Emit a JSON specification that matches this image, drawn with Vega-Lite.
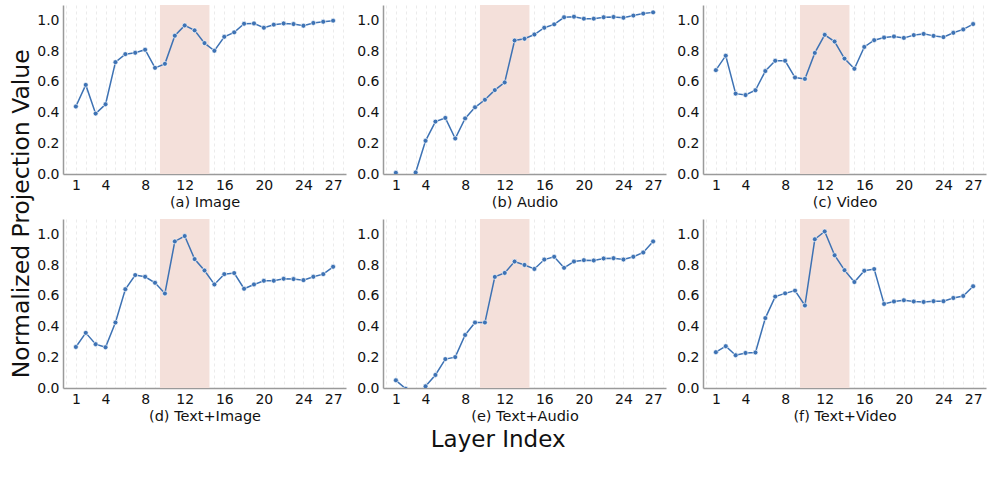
{
"$schema":"https://vega.github.io/schema/vega-lite/v6.json",
"padding":{"left":10,"top":5,"right":5,"bottom":5},
"title":{"text":"Layer Index","orient":"bottom","fontSize":23,"fontWeight":"normal","anchor":"middle","offset":6,"color":"#111"},
"config":{
 "font":"DejaVu Sans",
 "view":{"stroke":null},
 "axis":{"domainColor":"#9a9a9a","domainWidth":1.5,"ticks":false,"gridColor":"#e6e6e6","gridDash":[3,3],"gridWidth":0.8,"labelFontSize":14,"labelColor":"#111","titleFontSize":14.5,"titleFontWeight":"normal","titleColor":"#111","labelPadding":4,"titlePadding":3,"labelOverlap":false}
},
"datasets":{
 "band":[{"start":9.5,"end":14.5}],
 "d":[
{"panel":"a","layer":1,"value":0.439},{"panel":"a","layer":2,"value":0.58},{"panel":"a","layer":3,"value":0.393},{"panel":"a","layer":4,"value":0.454},{"panel":"a","layer":5,"value":0.728},{"panel":"a","layer":6,"value":0.78},{"panel":"a","layer":7,"value":0.789},{"panel":"a","layer":8,"value":0.809},{"panel":"a","layer":9,"value":0.691},{"panel":"a","layer":10,"value":0.717},{"panel":"a","layer":11,"value":0.9},{"panel":"a","layer":12,"value":0.967},{"panel":"a","layer":13,"value":0.935},{"panel":"a","layer":14,"value":0.852},{"panel":"a","layer":15,"value":0.802},{"panel":"a","layer":16,"value":0.893},{"panel":"a","layer":17,"value":0.922},{"panel":"a","layer":18,"value":0.978},{"panel":"a","layer":19,"value":0.98},{"panel":"a","layer":20,"value":0.952},{"panel":"a","layer":21,"value":0.972},{"panel":"a","layer":22,"value":0.98},{"panel":"a","layer":23,"value":0.976},{"panel":"a","layer":24,"value":0.965},{"panel":"a","layer":25,"value":0.983},{"panel":"a","layer":26,"value":0.991},{"panel":"a","layer":27,"value":0.998},
{"panel":"b","layer":1,"value":0.008},{"panel":"b","layer":2,"value":-0.05},{"panel":"b","layer":3,"value":0.01},{"panel":"b","layer":4,"value":0.216},{"panel":"b","layer":5,"value":0.341},{"panel":"b","layer":6,"value":0.365},{"panel":"b","layer":7,"value":0.231},{"panel":"b","layer":8,"value":0.362},{"panel":"b","layer":9,"value":0.434},{"panel":"b","layer":10,"value":0.483},{"panel":"b","layer":11,"value":0.546},{"panel":"b","layer":12,"value":0.596},{"panel":"b","layer":13,"value":0.869},{"panel":"b","layer":14,"value":0.88},{"panel":"b","layer":15,"value":0.908},{"panel":"b","layer":16,"value":0.952},{"panel":"b","layer":17,"value":0.974},{"panel":"b","layer":18,"value":1.02},{"panel":"b","layer":19,"value":1.024},{"panel":"b","layer":20,"value":1.011},{"panel":"b","layer":21,"value":1.011},{"panel":"b","layer":22,"value":1.02},{"panel":"b","layer":23,"value":1.022},{"panel":"b","layer":24,"value":1.017},{"panel":"b","layer":25,"value":1.031},{"panel":"b","layer":26,"value":1.044},{"panel":"b","layer":27,"value":1.052},
{"panel":"c","layer":1,"value":0.676},{"panel":"c","layer":2,"value":0.77},{"panel":"c","layer":3,"value":0.523},{"panel":"c","layer":4,"value":0.514},{"panel":"c","layer":5,"value":0.545},{"panel":"c","layer":6,"value":0.67},{"panel":"c","layer":7,"value":0.737},{"panel":"c","layer":8,"value":0.737},{"panel":"c","layer":9,"value":0.628},{"panel":"c","layer":10,"value":0.619},{"panel":"c","layer":11,"value":0.788},{"panel":"c","layer":12,"value":0.906},{"panel":"c","layer":13,"value":0.862},{"panel":"c","layer":14,"value":0.751},{"panel":"c","layer":15,"value":0.685},{"panel":"c","layer":16,"value":0.827},{"panel":"c","layer":17,"value":0.871},{"panel":"c","layer":18,"value":0.888},{"panel":"c","layer":19,"value":0.895},{"panel":"c","layer":20,"value":0.886},{"panel":"c","layer":21,"value":0.904},{"panel":"c","layer":22,"value":0.912},{"panel":"c","layer":23,"value":0.899},{"panel":"c","layer":24,"value":0.891},{"panel":"c","layer":25,"value":0.919},{"panel":"c","layer":26,"value":0.941},{"panel":"c","layer":27,"value":0.976},
{"panel":"d","layer":1,"value":0.267},{"panel":"d","layer":2,"value":0.359},{"panel":"d","layer":3,"value":0.285},{"panel":"d","layer":4,"value":0.265},{"panel":"d","layer":5,"value":0.426},{"panel":"d","layer":6,"value":0.643},{"panel":"d","layer":7,"value":0.735},{"panel":"d","layer":8,"value":0.724},{"panel":"d","layer":9,"value":0.685},{"panel":"d","layer":10,"value":0.615},{"panel":"d","layer":11,"value":0.954},{"panel":"d","layer":12,"value":0.989},{"panel":"d","layer":13,"value":0.839},{"panel":"d","layer":14,"value":0.765},{"panel":"d","layer":15,"value":0.674},{"panel":"d","layer":16,"value":0.741},{"panel":"d","layer":17,"value":0.748},{"panel":"d","layer":18,"value":0.646},{"panel":"d","layer":19,"value":0.674},{"panel":"d","layer":20,"value":0.698},{"panel":"d","layer":21,"value":0.698},{"panel":"d","layer":22,"value":0.711},{"panel":"d","layer":23,"value":0.709},{"panel":"d","layer":24,"value":0.702},{"panel":"d","layer":25,"value":0.724},{"panel":"d","layer":26,"value":0.741},{"panel":"d","layer":27,"value":0.789},
{"panel":"e","layer":1,"value":0.05},{"panel":"e","layer":2,"value":-0.005},{"panel":"e","layer":3,"value":-0.05},{"panel":"e","layer":4,"value":0.011},{"panel":"e","layer":5,"value":0.085},{"panel":"e","layer":6,"value":0.188},{"panel":"e","layer":7,"value":0.201},{"panel":"e","layer":8,"value":0.345},{"panel":"e","layer":9,"value":0.426},{"panel":"e","layer":10,"value":0.426},{"panel":"e","layer":11,"value":0.723},{"panel":"e","layer":12,"value":0.749},{"panel":"e","layer":13,"value":0.823},{"panel":"e","layer":14,"value":0.801},{"panel":"e","layer":15,"value":0.775},{"panel":"e","layer":16,"value":0.836},{"panel":"e","layer":17,"value":0.854},{"panel":"e","layer":18,"value":0.782},{"panel":"e","layer":19,"value":0.823},{"panel":"e","layer":20,"value":0.832},{"panel":"e","layer":21,"value":0.83},{"panel":"e","layer":22,"value":0.843},{"panel":"e","layer":23,"value":0.845},{"panel":"e","layer":24,"value":0.836},{"panel":"e","layer":25,"value":0.854},{"panel":"e","layer":26,"value":0.882},{"panel":"e","layer":27,"value":0.954},
{"panel":"f","layer":1,"value":0.233},{"panel":"f","layer":2,"value":0.272},{"panel":"f","layer":3,"value":0.213},{"panel":"f","layer":4,"value":0.228},{"panel":"f","layer":5,"value":0.231},{"panel":"f","layer":6,"value":0.455},{"panel":"f","layer":7,"value":0.595},{"panel":"f","layer":8,"value":0.616},{"panel":"f","layer":9,"value":0.634},{"panel":"f","layer":10,"value":0.537},{"panel":"f","layer":11,"value":0.968},{"panel":"f","layer":12,"value":1.019},{"panel":"f","layer":13,"value":0.864},{"panel":"f","layer":14,"value":0.767},{"panel":"f","layer":15,"value":0.69},{"panel":"f","layer":16,"value":0.763},{"panel":"f","layer":17,"value":0.774},{"panel":"f","layer":18,"value":0.547},{"panel":"f","layer":19,"value":0.563},{"panel":"f","layer":20,"value":0.571},{"panel":"f","layer":21,"value":0.563},{"panel":"f","layer":22,"value":0.56},{"panel":"f","layer":23,"value":0.565},{"panel":"f","layer":24,"value":0.565},{"panel":"f","layer":25,"value":0.586},{"panel":"f","layer":26,"value":0.599},{"panel":"f","layer":27,"value":0.662}
 ]
},
"vconcat":[{
 "title":{"text":"Normalized Projection Value","orient":"left","fontSize":23.5,"fontWeight":"normal","anchor":"middle","offset":3,"color":"#111"},
 "columns":3,
 "spacing":{"row":10,"column":10},
 "concat":[
  {"width":283,"height":169,"layer":[
   {"data":{"name":"band"},"mark":{"type":"rect","color":"#f4e0da"},"encoding":{"x":{"field":"start","type":"quantitative","title":"(a) Image","scale":{"domain":[-0.3,28.3],"nice":false,"zero":false},"axis":{"values":[0,1,2,3,4,5,6,7,8,9,10,11,12,13,14,15,16,17,18,19,20,21,22,23,24,25,26,27,28],"labelExpr":"indexof([1,4,8,12,16,20,24,27], datum.value) >= 0 ? datum.label : ''"}},"x2":{"field":"end"},"y":{"datum":0,"type":"quantitative","title":null,"scale":{"domain":[0,1.1],"nice":false},"axis":{"values":[0,0.2,0.4,0.6,0.8,1.0],"format":".1f"}},"y2":{"datum":1.1}}},
   {"data":{"name":"d"},"transform":[{"filter":"datum.panel==='a'"}],"mark":{"type":"line","color":"#3d72b4","strokeWidth":1.5,"clip":true},"encoding":{"x":{"field":"layer","type":"quantitative","title":"(a) Image","axis":{"values":[0,1,2,3,4,5,6,7,8,9,10,11,12,13,14,15,16,17,18,19,20,21,22,23,24,25,26,27,28],"labelExpr":"indexof([1,4,8,12,16,20,24,27], datum.value) >= 0 ? datum.label : ''"}},"y":{"field":"value","type":"quantitative","title":null,"axis":{"values":[0,0.2,0.4,0.6,0.8,1.0],"format":".1f"}}}},
   {"data":{"name":"d"},"transform":[{"filter":"datum.panel==='a'"}],"mark":{"type":"point","filled":true,"color":"#3d72b4","size":24,"stroke":"#ffffff","strokeWidth":0.8,"strokeOpacity":0.8,"opacity":1,"clip":true},"encoding":{"x":{"field":"layer","type":"quantitative","title":"(a) Image","axis":{"values":[0,1,2,3,4,5,6,7,8,9,10,11,12,13,14,15,16,17,18,19,20,21,22,23,24,25,26,27,28],"labelExpr":"indexof([1,4,8,12,16,20,24,27], datum.value) >= 0 ? datum.label : ''"}},"y":{"field":"value","type":"quantitative","title":null,"axis":{"values":[0,0.2,0.4,0.6,0.8,1.0],"format":".1f"}}}}
  ]},
  {"width":283,"height":169,"layer":[
   {"data":{"name":"band"},"mark":{"type":"rect","color":"#f4e0da"},"encoding":{"x":{"field":"start","type":"quantitative","title":"(b) Audio","scale":{"domain":[-0.3,28.3],"nice":false,"zero":false},"axis":{"values":[0,1,2,3,4,5,6,7,8,9,10,11,12,13,14,15,16,17,18,19,20,21,22,23,24,25,26,27,28],"labelExpr":"indexof([1,4,8,12,16,20,24,27], datum.value) >= 0 ? datum.label : ''"}},"x2":{"field":"end"},"y":{"datum":0,"type":"quantitative","title":null,"scale":{"domain":[0,1.1],"nice":false},"axis":{"values":[0,0.2,0.4,0.6,0.8,1.0],"format":".1f"}},"y2":{"datum":1.1}}},
   {"data":{"name":"d"},"transform":[{"filter":"datum.panel==='b'"}],"mark":{"type":"line","color":"#3d72b4","strokeWidth":1.5,"clip":true},"encoding":{"x":{"field":"layer","type":"quantitative","title":"(b) Audio","axis":{"values":[0,1,2,3,4,5,6,7,8,9,10,11,12,13,14,15,16,17,18,19,20,21,22,23,24,25,26,27,28],"labelExpr":"indexof([1,4,8,12,16,20,24,27], datum.value) >= 0 ? datum.label : ''"}},"y":{"field":"value","type":"quantitative","title":null,"axis":{"values":[0,0.2,0.4,0.6,0.8,1.0],"format":".1f"}}}},
   {"data":{"name":"d"},"transform":[{"filter":"datum.panel==='b'"}],"mark":{"type":"point","filled":true,"color":"#3d72b4","size":24,"stroke":"#ffffff","strokeWidth":0.8,"strokeOpacity":0.8,"opacity":1,"clip":true},"encoding":{"x":{"field":"layer","type":"quantitative","title":"(b) Audio","axis":{"values":[0,1,2,3,4,5,6,7,8,9,10,11,12,13,14,15,16,17,18,19,20,21,22,23,24,25,26,27,28],"labelExpr":"indexof([1,4,8,12,16,20,24,27], datum.value) >= 0 ? datum.label : ''"}},"y":{"field":"value","type":"quantitative","title":null,"axis":{"values":[0,0.2,0.4,0.6,0.8,1.0],"format":".1f"}}}}
  ]},
  {"width":283,"height":169,"layer":[
   {"data":{"name":"band"},"mark":{"type":"rect","color":"#f4e0da"},"encoding":{"x":{"field":"start","type":"quantitative","title":"(c) Video","scale":{"domain":[-0.3,28.3],"nice":false,"zero":false},"axis":{"values":[0,1,2,3,4,5,6,7,8,9,10,11,12,13,14,15,16,17,18,19,20,21,22,23,24,25,26,27,28],"labelExpr":"indexof([1,4,8,12,16,20,24,27], datum.value) >= 0 ? datum.label : ''"}},"x2":{"field":"end"},"y":{"datum":0,"type":"quantitative","title":null,"scale":{"domain":[0,1.1],"nice":false},"axis":{"values":[0,0.2,0.4,0.6,0.8,1.0],"format":".1f"}},"y2":{"datum":1.1}}},
   {"data":{"name":"d"},"transform":[{"filter":"datum.panel==='c'"}],"mark":{"type":"line","color":"#3d72b4","strokeWidth":1.5,"clip":true},"encoding":{"x":{"field":"layer","type":"quantitative","title":"(c) Video","axis":{"values":[0,1,2,3,4,5,6,7,8,9,10,11,12,13,14,15,16,17,18,19,20,21,22,23,24,25,26,27,28],"labelExpr":"indexof([1,4,8,12,16,20,24,27], datum.value) >= 0 ? datum.label : ''"}},"y":{"field":"value","type":"quantitative","title":null,"axis":{"values":[0,0.2,0.4,0.6,0.8,1.0],"format":".1f"}}}},
   {"data":{"name":"d"},"transform":[{"filter":"datum.panel==='c'"}],"mark":{"type":"point","filled":true,"color":"#3d72b4","size":24,"stroke":"#ffffff","strokeWidth":0.8,"strokeOpacity":0.8,"opacity":1,"clip":true},"encoding":{"x":{"field":"layer","type":"quantitative","title":"(c) Video","axis":{"values":[0,1,2,3,4,5,6,7,8,9,10,11,12,13,14,15,16,17,18,19,20,21,22,23,24,25,26,27,28],"labelExpr":"indexof([1,4,8,12,16,20,24,27], datum.value) >= 0 ? datum.label : ''"}},"y":{"field":"value","type":"quantitative","title":null,"axis":{"values":[0,0.2,0.4,0.6,0.8,1.0],"format":".1f"}}}}
  ]},
  {"width":283,"height":169,"layer":[
   {"data":{"name":"band"},"mark":{"type":"rect","color":"#f4e0da"},"encoding":{"x":{"field":"start","type":"quantitative","title":"(d) Text+Image","scale":{"domain":[-0.3,28.3],"nice":false,"zero":false},"axis":{"values":[0,1,2,3,4,5,6,7,8,9,10,11,12,13,14,15,16,17,18,19,20,21,22,23,24,25,26,27,28],"labelExpr":"indexof([1,4,8,12,16,20,24,27], datum.value) >= 0 ? datum.label : ''"}},"x2":{"field":"end"},"y":{"datum":0,"type":"quantitative","title":null,"scale":{"domain":[0,1.1],"nice":false},"axis":{"values":[0,0.2,0.4,0.6,0.8,1.0],"format":".1f"}},"y2":{"datum":1.1}}},
   {"data":{"name":"d"},"transform":[{"filter":"datum.panel==='d'"}],"mark":{"type":"line","color":"#3d72b4","strokeWidth":1.5,"clip":true},"encoding":{"x":{"field":"layer","type":"quantitative","title":"(d) Text+Image","axis":{"values":[0,1,2,3,4,5,6,7,8,9,10,11,12,13,14,15,16,17,18,19,20,21,22,23,24,25,26,27,28],"labelExpr":"indexof([1,4,8,12,16,20,24,27], datum.value) >= 0 ? datum.label : ''"}},"y":{"field":"value","type":"quantitative","title":null,"axis":{"values":[0,0.2,0.4,0.6,0.8,1.0],"format":".1f"}}}},
   {"data":{"name":"d"},"transform":[{"filter":"datum.panel==='d'"}],"mark":{"type":"point","filled":true,"color":"#3d72b4","size":24,"stroke":"#ffffff","strokeWidth":0.8,"strokeOpacity":0.8,"opacity":1,"clip":true},"encoding":{"x":{"field":"layer","type":"quantitative","title":"(d) Text+Image","axis":{"values":[0,1,2,3,4,5,6,7,8,9,10,11,12,13,14,15,16,17,18,19,20,21,22,23,24,25,26,27,28],"labelExpr":"indexof([1,4,8,12,16,20,24,27], datum.value) >= 0 ? datum.label : ''"}},"y":{"field":"value","type":"quantitative","title":null,"axis":{"values":[0,0.2,0.4,0.6,0.8,1.0],"format":".1f"}}}}
  ]},
  {"width":283,"height":169,"layer":[
   {"data":{"name":"band"},"mark":{"type":"rect","color":"#f4e0da"},"encoding":{"x":{"field":"start","type":"quantitative","title":"(e) Text+Audio","scale":{"domain":[-0.3,28.3],"nice":false,"zero":false},"axis":{"values":[0,1,2,3,4,5,6,7,8,9,10,11,12,13,14,15,16,17,18,19,20,21,22,23,24,25,26,27,28],"labelExpr":"indexof([1,4,8,12,16,20,24,27], datum.value) >= 0 ? datum.label : ''"}},"x2":{"field":"end"},"y":{"datum":0,"type":"quantitative","title":null,"scale":{"domain":[0,1.1],"nice":false},"axis":{"values":[0,0.2,0.4,0.6,0.8,1.0],"format":".1f"}},"y2":{"datum":1.1}}},
   {"data":{"name":"d"},"transform":[{"filter":"datum.panel==='e'"}],"mark":{"type":"line","color":"#3d72b4","strokeWidth":1.5,"clip":true},"encoding":{"x":{"field":"layer","type":"quantitative","title":"(e) Text+Audio","axis":{"values":[0,1,2,3,4,5,6,7,8,9,10,11,12,13,14,15,16,17,18,19,20,21,22,23,24,25,26,27,28],"labelExpr":"indexof([1,4,8,12,16,20,24,27], datum.value) >= 0 ? datum.label : ''"}},"y":{"field":"value","type":"quantitative","title":null,"axis":{"values":[0,0.2,0.4,0.6,0.8,1.0],"format":".1f"}}}},
   {"data":{"name":"d"},"transform":[{"filter":"datum.panel==='e'"}],"mark":{"type":"point","filled":true,"color":"#3d72b4","size":24,"stroke":"#ffffff","strokeWidth":0.8,"strokeOpacity":0.8,"opacity":1,"clip":true},"encoding":{"x":{"field":"layer","type":"quantitative","title":"(e) Text+Audio","axis":{"values":[0,1,2,3,4,5,6,7,8,9,10,11,12,13,14,15,16,17,18,19,20,21,22,23,24,25,26,27,28],"labelExpr":"indexof([1,4,8,12,16,20,24,27], datum.value) >= 0 ? datum.label : ''"}},"y":{"field":"value","type":"quantitative","title":null,"axis":{"values":[0,0.2,0.4,0.6,0.8,1.0],"format":".1f"}}}}
  ]},
  {"width":283,"height":169,"layer":[
   {"data":{"name":"band"},"mark":{"type":"rect","color":"#f4e0da"},"encoding":{"x":{"field":"start","type":"quantitative","title":"(f) Text+Video","scale":{"domain":[-0.3,28.3],"nice":false,"zero":false},"axis":{"values":[0,1,2,3,4,5,6,7,8,9,10,11,12,13,14,15,16,17,18,19,20,21,22,23,24,25,26,27,28],"labelExpr":"indexof([1,4,8,12,16,20,24,27], datum.value) >= 0 ? datum.label : ''"}},"x2":{"field":"end"},"y":{"datum":0,"type":"quantitative","title":null,"scale":{"domain":[0,1.1],"nice":false},"axis":{"values":[0,0.2,0.4,0.6,0.8,1.0],"format":".1f"}},"y2":{"datum":1.1}}},
   {"data":{"name":"d"},"transform":[{"filter":"datum.panel==='f'"}],"mark":{"type":"line","color":"#3d72b4","strokeWidth":1.5,"clip":true},"encoding":{"x":{"field":"layer","type":"quantitative","title":"(f) Text+Video","axis":{"values":[0,1,2,3,4,5,6,7,8,9,10,11,12,13,14,15,16,17,18,19,20,21,22,23,24,25,26,27,28],"labelExpr":"indexof([1,4,8,12,16,20,24,27], datum.value) >= 0 ? datum.label : ''"}},"y":{"field":"value","type":"quantitative","title":null,"axis":{"values":[0,0.2,0.4,0.6,0.8,1.0],"format":".1f"}}}},
   {"data":{"name":"d"},"transform":[{"filter":"datum.panel==='f'"}],"mark":{"type":"point","filled":true,"color":"#3d72b4","size":24,"stroke":"#ffffff","strokeWidth":0.8,"strokeOpacity":0.8,"opacity":1,"clip":true},"encoding":{"x":{"field":"layer","type":"quantitative","title":"(f) Text+Video","axis":{"values":[0,1,2,3,4,5,6,7,8,9,10,11,12,13,14,15,16,17,18,19,20,21,22,23,24,25,26,27,28],"labelExpr":"indexof([1,4,8,12,16,20,24,27], datum.value) >= 0 ? datum.label : ''"}},"y":{"field":"value","type":"quantitative","title":null,"axis":{"values":[0,0.2,0.4,0.6,0.8,1.0],"format":".1f"}}}}
  ]}
 ]
}]
}
